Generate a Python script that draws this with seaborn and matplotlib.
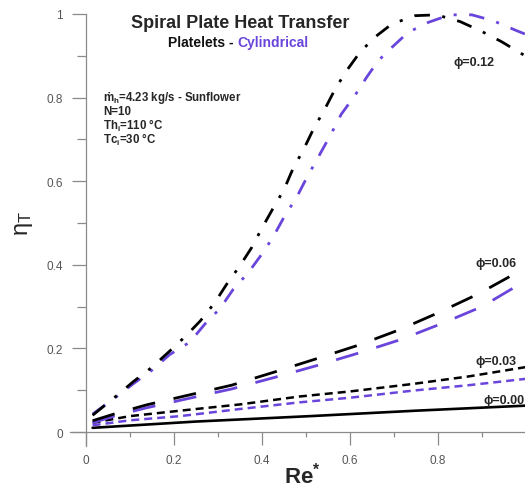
import matplotlib
matplotlib.use("Agg")
import matplotlib.pyplot as plt
import seaborn as sns
import pandas as pd

# ---------------- data ----------------
# phi = 0.12
x_p012_plt = [0.015, 0.07, 0.107, 0.15, 0.2, 0.227, 0.26, 0.293, 0.32, 0.35, 0.377, 0.40, 0.424, 0.45,
              0.47, 0.495, 0.517, 0.543, 0.566, 0.592, 0.623, 0.657, 0.695, 0.748, 0.797, 0.85, 0.90, 0.944, 0.998]
y_p012_plt = [0.04, 0.087, 0.12, 0.155, 0.203, 0.23, 0.266, 0.31, 0.354, 0.398, 0.442, 0.488, 0.533, 0.58,
              0.629, 0.677, 0.725, 0.773, 0.82, 0.864, 0.909, 0.945, 0.976, 0.996, 0.998, 0.982, 0.958, 0.934, 0.90]
x_p012_cyl = [0.015, 0.07, 0.107, 0.15, 0.19, 0.236, 0.27, 0.305, 0.335, 0.368, 0.40, 0.425, 0.45, 0.479,
              0.50, 0.555, 0.58, 0.611, 0.638, 0.664, 0.695, 0.732, 0.778, 0.827, 0.877, 0.925, 0.979, 0.998]
y_p012_cyl = [0.043, 0.085, 0.115, 0.148, 0.185, 0.215, 0.258, 0.296, 0.342, 0.38, 0.426, 0.466, 0.514, 0.562,
              0.605, 0.709, 0.76, 0.805, 0.849, 0.888, 0.92, 0.956, 0.98, 0.998, 0.998, 0.984, 0.96, 0.952]
# phi = 0.06
x_p006_plt = [0.015, 0.07, 0.138, 0.232, 0.331, 0.43, 0.52, 0.617, 0.711, 0.80, 0.891, 0.977, 0.998]
y_p006_plt = [0.027, 0.045, 0.065, 0.088, 0.112, 0.144, 0.174, 0.207, 0.244, 0.285, 0.33, 0.38, 0.395]
x_p006_cyl = [0.015, 0.07, 0.138, 0.232, 0.331, 0.43, 0.525, 0.62, 0.715, 0.81, 0.90, 0.98, 0.998]
y_p006_cyl = [0.022, 0.04, 0.058, 0.08, 0.103, 0.131, 0.159, 0.189, 0.221, 0.26, 0.30, 0.35, 0.36]
# phi = 0.03
x_p003 = [0.015, 0.1, 0.214, 0.35, 0.486, 0.6, 0.743, 0.87, 0.998]
y_p003_plt = [0.022, 0.038, 0.051, 0.066, 0.085, 0.097, 0.115, 0.133, 0.155]
y_p003_cyl = [0.016, 0.028, 0.038, 0.055, 0.071, 0.082, 0.099, 0.112, 0.127]
# phi = 0.00
x_p000 = [0.015, 0.25, 0.51, 0.75, 0.998]
y_p000 = [0.01, 0.025, 0.038, 0.051, 0.063]

x_ticks = [0, 0.2, 0.4, 0.6, 0.8]
x_tick_labels = ["0", "0.2", "0.4", "0.6", "0.8"]
y_ticks = [0, 0.2, 0.4, 0.6, 0.8, 1.0]
y_tick_labels = ["0", "0.2", "0.4", "0.6", "0.8", "1"]
phi_labels = ["\u03d5=0.12", "\u03d5=0.06", "\u03d5=0.03", "\u03d5=0.00"]

PURPLE = "#6a45dc"
GRAY_AX = "#8a8a8a"
GRAY_TXT = "#555555"

sns.set_style("white")
plt.rcParams["font.family"] = ["Liberation Sans", "DejaVu Sans"]
plt.rcParams["mathtext.fontset"] = "custom"
plt.rcParams["mathtext.rm"] = "Liberation Sans"
plt.rcParams["mathtext.it"] = "Liberation Sans:italic"
plt.rcParams["mathtext.bf"] = "Liberation Sans:bold"

W, H = 525, 489
fig = plt.figure(figsize=(W / 100, H / 100), dpi=100)
ax = fig.add_axes([70 / W, 1 - 447 / H, 455 / W, 432 / H])

dashdot = (0, (5.6, 4.5, 1.1, 4.5))
longdash = (0, (8.3, 6.8))
shortdash = (0, (3.2, 2.0))

series = [
    (x_p000, y_p000, "black", 1.9, "-"),
    (x_p003, y_p003_cyl, PURPLE, 1.8, shortdash),
    (x_p003, y_p003_plt, "black", 1.8, shortdash),
    (x_p006_cyl, y_p006_cyl, PURPLE, 2.0, longdash),
    (x_p006_plt, y_p006_plt, "black", 2.0, longdash),
    (x_p012_cyl, y_p012_cyl, PURPLE, 2.0, dashdot),
    (x_p012_plt, y_p012_plt, "black", 2.0, dashdot),
]
for xs, ys, col, lw, ls in series:
    df = pd.DataFrame({"x": xs, "y": ys})
    sns.lineplot(data=df, x="x", y="y", ax=ax, color=col, lw=lw, linestyle=ls,
                 estimator=None, sort=False, clip_on=False)

ax.set_xlim(-16 / 440, 439 / 440)
ax.set_ylim(-14 / 418, 1.0)
ax.set_xlabel("")
ax.set_ylabel("")
ax.grid(False)

for s in ["top", "right"]:
    ax.spines[s].set_visible(False)
ax.spines["left"].set_position(("data", 0))
ax.spines["bottom"].set_position(("data", 0))
for s in ["left", "bottom"]:
    ax.spines[s].set_color(GRAY_AX)
    ax.spines[s].set_linewidth(0.9)

ax.set_xticks(x_ticks)
ax.set_xticklabels(x_tick_labels)
ax.set_yticks(y_ticks)
ax.set_yticklabels(y_tick_labels)
ax.set_xticks([0.1, 0.3, 0.5, 0.7, 0.9], minor=True)
ax.set_yticks([0.1, 0.3, 0.5, 0.7, 0.9], minor=True)
ax.tick_params(which="both", bottom=True, left=True, top=False, right=False)
ax.tick_params(axis="x", which="major", direction="out", length=9.5, width=0.9,
               color=GRAY_AX, labelcolor=GRAY_TXT, labelsize=8.5, pad=6)
ax.tick_params(axis="x", which="minor", direction="out", length=3.5, width=0.9, color=GRAY_AX)
ax.tick_params(axis="y", which="major", direction="out", length=10, width=0.9,
               color=GRAY_AX, labelcolor=GRAY_TXT, labelsize=8.5, pad=6.5)
ax.tick_params(axis="y", which="minor", direction="out", length=6.3, width=0.9, color=GRAY_AX)


def ftext(x, y, s, **kw):
    return fig.text(x / W, 1 - y / H, s, **kw)


# axis labels
ftext(24, 223, "\u03b7$_\\mathregular{T}$", rotation=90, ha="center", va="center", fontsize=17)
ftext(302, 476, "Re$^{\\mathbf{*}}$", ha="center", va="center", fontsize=16, fontweight="bold")

# title block
ftext(240, 28, "Spiral Plate Heat Transfer", ha="center", va="baseline", fontsize=13, fontweight="bold")
t1 = ftext(168, 47, "Platelets - ", ha="left", va="baseline", fontsize=10, fontweight="bold", color="#111111")
fig.canvas.draw()
bb = t1.get_window_extent(renderer=fig.canvas.get_renderer())
fig.text(bb.x1 / W, 1 - 47 / H, "Cylindrical", ha="left", va="baseline", fontsize=10,
         fontweight="bold", color=PURPLE)

# info block
info_lines = ["\u1e41$_\\mathbf{h}$=4.23 kg/s - Sunflower", "N=10",
              "Th$_\\mathbf{i}$=110 \u00b0C", "Tc$_\\mathbf{i}$=30 \u00b0C"]
for i, line in enumerate(info_lines):
    ftext(103, 100.5 + 14.5 * i, line, ha="left", va="baseline", fontsize=8.3, fontweight="bold")

# phi labels
phi_pos = [(453, 66), (475, 266.5), (475, 365), (483, 404)]
for lab, (px, py) in zip(phi_labels, phi_pos):
    ftext(px, py, lab, ha="left", va="baseline", fontsize=9, fontweight="bold")

fig.savefig("out.png", dpi=100)
